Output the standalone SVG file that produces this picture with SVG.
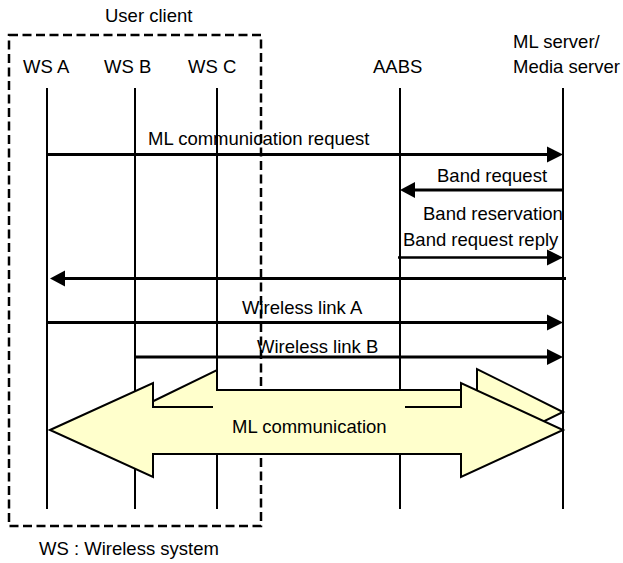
<svg xmlns="http://www.w3.org/2000/svg" width="623" height="563" viewBox="0 0 623 563">
<style>
text { font-family: "Liberation Sans", Arial, sans-serif; font-size: 18.5px; fill: #000; }
.life { stroke: #000; stroke-width: 2; fill: none; }
.msg { stroke: #000; stroke-width: 3; fill: none; }
.head { fill: #000; stroke: none; }
.block { fill: #FFFFCC; stroke: #000; stroke-width: 2; stroke-linejoin: miter; }
.group { fill: none; stroke: #000; stroke-width: 2.5; stroke-dasharray: 9 4.5; }
</style>
<rect width="623" height="563" fill="#fff"/>

<g id="user-client">
  <rect class="group" x="9" y="35" width="252" height="491"/>
  <text x="105" y="22">User client</text>
</g>

<g id="ws-a"><text x="23" y="73">WS A</text><line class="life" x1="47" y1="88" x2="47" y2="509"/></g>
<g id="ws-b"><text x="104" y="73">WS B</text><line class="life" x1="135" y1="88" x2="135" y2="509"/></g>
<g id="ws-c"><text x="188" y="73">WS C</text><line class="life" x1="217" y1="88" x2="217" y2="509"/></g>
<g id="aabs"><text x="373" y="73">AABS</text><line class="life" x1="400" y1="88" x2="400" y2="509"/></g>
<g id="ml-server"><text x="513" y="48">ML server/</text><text x="513" y="73">Media server</text><line class="life" x1="563" y1="88" x2="563" y2="509"/></g>

<g id="connectors">
  <line class="msg" x1="47" y1="154.5" x2="550" y2="154.5"/>
  <polygon class="head" points="563,154.5 547,146.5 547,162.5"/>
  <text x="148" y="145">ML communication request</text>

  <line class="msg" x1="563" y1="190" x2="412" y2="190"/>
  <polygon class="head" points="400,190 415,182 415,198"/>
  <text x="437" y="182">Band request</text>

  <text x="423" y="220">Band reservation</text>
  <text x="403" y="246">Band request reply</text>
  <line class="msg" x1="398" y1="257.5" x2="550" y2="257.5" style="stroke-width:2.5"/>
  <polygon class="head" points="563,257.5 547,249.5 547,265.5"/>

  <line class="msg" x1="566" y1="278.5" x2="62" y2="278.5"/>
  <polygon class="head" points="50,278.5 65,270.5 65,286.5"/>

  <line class="msg" x1="47" y1="322.5" x2="550" y2="322.5"/>
  <polygon class="head" points="563,322.5 547,314.5 547,330.5"/>
  <text x="242" y="314">Wireless link A</text>

  <line class="msg" x1="134" y1="357" x2="550" y2="357"/>
  <polygon class="head" points="563,357 547,349 547,365"/>
  <text x="257" y="353">Wireless link B</text>
</g>

<g id="ml-communication">
  <polygon class="block" points="131,412 217,370 217,390 477,390 477,369 563,412 477,454 477,434 217,434 217,454"/>
  <polygon class="block" points="50,430 153,383 153,407 461,407 461,383 563,430 461,477 461,454 153,454 153,477"/>
  <rect x="213" y="405.5" width="192" height="46.5" fill="#FFFFCC"/>
  <text x="232" y="433">ML communication</text>
</g>

<text x="39" y="555">WS : Wireless system</text>
</svg>
